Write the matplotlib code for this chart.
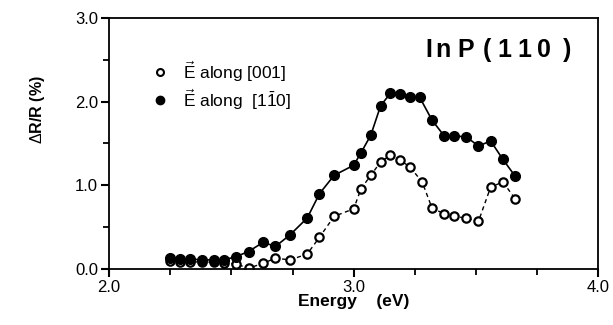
import numpy as np
import matplotlib.pyplot as plt
from matplotlib.ticker import MultipleLocator

plt.rcParams['font.family'] = ['Liberation Sans', 'DejaVu Sans']
plt.rcParams['mathtext.fontset'] = 'custom'
plt.rcParams['mathtext.rm'] = 'Liberation Sans'
plt.rcParams['mathtext.it'] = 'Liberation Sans'

# E along [001] (open circles)
e_001 = [2.25, 2.29, 2.33, 2.38, 2.43, 2.47, 2.52, 2.57, 2.63, 2.68, 2.74,
         2.81, 2.86, 2.92, 3.00, 3.03, 3.07, 3.11, 3.15, 3.19, 3.23, 3.28,
         3.32, 3.37, 3.41, 3.46, 3.51, 3.56, 3.61, 3.66]
r_001 = [0.10, 0.09, 0.08, 0.09, 0.08, 0.07, 0.06, 0.01, 0.07, 0.13, 0.11,
         0.18, 0.38, 0.63, 0.72, 0.96, 1.12, 1.28, 1.36, 1.30, 1.22, 1.04,
         0.73, 0.66, 0.63, 0.61, 0.57, 0.98, 1.04, 0.84]

# E along [1-10] (filled circles)
e_110 = [2.25, 2.29, 2.33, 2.38, 2.43, 2.47, 2.52, 2.57, 2.63, 2.68, 2.74,
         2.81, 2.86, 2.92, 3.00, 3.03, 3.07, 3.11, 3.15, 3.19, 3.23, 3.27,
         3.32, 3.37, 3.41, 3.46, 3.51, 3.56, 3.61, 3.66]
r_110 = [0.13, 0.12, 0.12, 0.11, 0.11, 0.11, 0.15, 0.21, 0.32, 0.27, 0.41,
         0.61, 0.90, 1.12, 1.24, 1.39, 1.60, 1.95, 2.10, 2.09, 2.05, 2.05,
         1.78, 1.59, 1.59, 1.58, 1.47, 1.53, 1.31, 1.11]

fig = plt.figure(figsize=(6.13, 3.25), dpi=100)
ax = fig.add_axes([0.178, 0.172, 0.798, 0.773])

ax.plot(e_001, r_001, color='black', lw=1.0, ls=(0, (3, 2.5)),
        marker='o', ms=6, mfc='white', mec='black', mew=1.6)
ax.plot(e_110, r_110, color='black', lw=1.2,
        marker='o', ms=7, mfc='black', mec='black')

ax.set_xlim(2.0, 4.0)
ax.set_ylim(0.0, 3.0)
ax.xaxis.set_major_locator(MultipleLocator(1.0))
ax.xaxis.set_minor_locator(MultipleLocator(0.25))
ax.yaxis.set_major_locator(MultipleLocator(1.0))
ax.yaxis.set_minor_locator(MultipleLocator(0.5))
ax.xaxis.set_major_formatter(plt.FuncFormatter(lambda v, p: f"{v:.1f}"))
ax.yaxis.set_major_formatter(plt.FuncFormatter(lambda v, p: f"{v:.1f}"))
ax.tick_params(which='major', direction='out', length=6, width=1.5,
               labelsize=12, pad=2)
ax.tick_params(which='minor', direction='out', length=4, width=1.3)
for s in ax.spines.values():
    s.set_linewidth(1.3)

ax.set_xlabel("Energy    (eV)", fontsize=12.5, fontweight='bold', labelpad=-1)
ax.set_ylabel(r"$\Delta$R/R (%)", fontsize=11.5, fontweight='bold')
ax.yaxis.set_label_coords(-0.127, 0.633)

# title, spaced out letter by letter like the original
title_chars = ['I', 'n', 'P', '(', '1', '1', '0', ')']
title_x = [0.646, 0.667, 0.712, 0.763, 0.793, 0.834, 0.875, 0.928]
for ch, xx in zip(title_chars, title_x):
    ax.text(xx, 0.872, ch, transform=ax.transAxes, fontsize=18,
            fontweight='bold', va='center', ha='left')

# legend drawn by hand
ax.plot([0.104], [0.785], transform=ax.transAxes, marker='o', ms=5,
        mfc='white', mec='black', mew=1.5)
ax.plot([0.104], [0.673], transform=ax.transAxes, marker='o', ms=6,
        mfc='black', mec='black')
ax.text(0.151, 0.785, r"$\vec{\mathrm{E}}$ along [001]", transform=ax.transAxes,
        fontsize=12.5, va='center')
ax.text(0.151, 0.673, r"$\vec{\mathrm{E}}$ along  [1$\bar{\mathrm{1}}$0]",
        transform=ax.transAxes, fontsize=12.5, va='center')

fig.savefig("out.png", dpi=100)
